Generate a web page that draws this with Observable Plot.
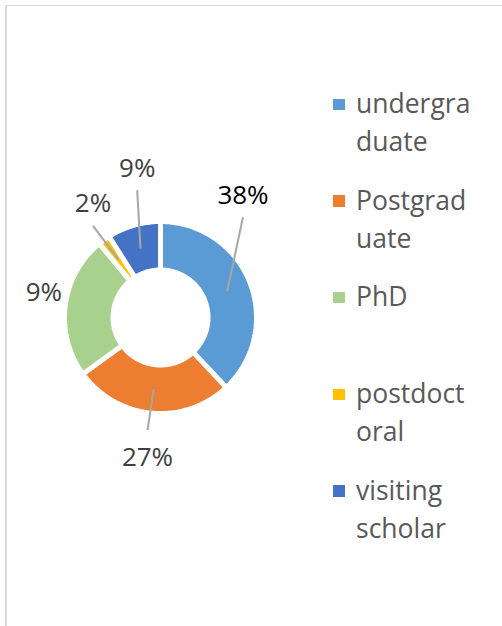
<!DOCTYPE html>
<html>
<head>
<meta charset="utf-8">
<script src="https://cdn.jsdelivr.net/npm/d3@7"></script>
<script src="https://cdn.jsdelivr.net/npm/@observablehq/plot@0.6"></script>
<style>
  html, body { margin: 0; padding: 0; background: #fff; }
  #chart { position: relative; width: 502px; height: 626px; overflow: hidden; font-family: "Open Sans", sans-serif; }
  #frame { position: absolute; left: 5px; top: 5px; right: -2px; bottom: -2px; border-top: 1px solid #d9d9d9; border-left: 2px solid #d9d9d9; }
  #plot { position: absolute; left: 0; top: 0; }
  .lg-item { position: absolute; left: 333px; }
  .lg-sw { position: absolute; left: 0; width: 11.5px; height: 11.5px; }
  .lg-tx { position: absolute; left: 23px; width: 122px; font-size: 26.5px; line-height: 38.4px; color: #595959; overflow-wrap: anywhere; word-break: normal; }
</style>
</head>
<body>
<div id="chart"><div id="frame"></div><div id="plot"></div><div id="legend"></div></div>
<script>
// ---- data ----
const categories = ["undergraduate", "Postgraduate", "PhD", "postdoctoral", "visiting scholar"];
const values = [38, 27, 24, 2, 9];
const labels = ["38%", "27%", "9%", "2%", "9%"];
const colors = ["#5B9BD5", "#ED7D31", "#A9D18E", "#FFC000", "#4472C4"];

// ---- layout (pixels, relative to the donut centre, y up) ----
const W = 502, H = 626, CX = 160, CY = 317;
const R_OUT = 93.5, R_IN = 50, GAP = 5;
const labelPos = [[82.5, 122.3], [-13, -139.7], [-116.7, 25.3], [-67.5, 113.6], [-23.3, 149.3]];

const pie = d3.pie().sort(null).value(d => d)(values);
const slicePts = [];
pie.forEach((p, i) => {
  const a0 = p.startAngle, a1 = p.endAngle;
  const n = Math.max(2, Math.ceil((a1 - a0) / (Math.PI / 180)));
  const ro = R_OUT + GAP / 2, ri = R_IN - GAP / 2;
  const ring = [];
  for (let k = 0; k <= n; k++) { const a = a0 + (a1 - a0) * k / n; ring.push([ro * Math.sin(a), ro * Math.cos(a)]); }
  for (let k = n; k >= 0; k--) { const a = a0 + (a1 - a0) * k / n; ring.push([ri * Math.sin(a), ri * Math.cos(a)]); }
  ring.push(ring[0]);
  ring.forEach(([x, y]) => slicePts.push({x, y, cat: categories[i]}));
});

const rMid = (R_OUT + R_IN) / 2;
const labelData = pie.map((p, i) => {
  const am = (p.startAngle + p.endAngle) / 2;
  const cx = rMid * Math.sin(am), cy = rMid * Math.cos(am);
  const [lx, ly] = labelPos[i];
  const dist = Math.hypot(lx - cx, ly - cy);
  const ey = ly > cy ? ly - 22 : ly + 27;
  return {i, label: labels[i], lx, ly, cx, cy, ex: lx, ey, leader: dist > 55};
});

const chart = Plot.plot({
  width: W, height: H,
  marginTop: 0, marginRight: 0, marginBottom: 0, marginLeft: 0,
  x: {domain: [-CX, W - CX], axis: null},
  y: {domain: [-(H - CY), CY], axis: null},
  color: {domain: categories, range: colors},
  style: {background: "transparent", overflow: "visible"},
  marks: [
    Plot.line(slicePts, {x: "x", y: "y", z: "cat", fill: "cat", stroke: "white", strokeWidth: GAP, curve: "linear", strokeLinejoin: "miter"}),
    Plot.link(labelData.filter(d => d.leader), {x1: "cx", y1: "cy", x2: "ex", y2: "ey", stroke: "#a6a6a6", strokeWidth: 2}),
    Plot.text(labelData.filter(d => d.i === 0), {x: "lx", y: "ly", text: "label", fill: "#000000", fontSize: 26, fontFamily: "Open Sans"}),
    Plot.text(labelData.filter(d => d.i !== 0), {x: "lx", y: "ly", text: "label", fill: "#404040", fontSize: 26, fontFamily: "Open Sans"})
  ]
});
document.getElementById("plot").appendChild(chart);

// ---- legend ----
const legend = document.getElementById("legend");
categories.forEach((c, i) => {
  const top = 84 + i * 96.67;
  const item = document.createElement("div");
  item.className = "lg-item";
  item.style.top = top + "px";
  const sw = document.createElement("div");
  sw.className = "lg-sw";
  sw.style.top = (20.3 - 5.75) + "px";
  sw.style.background = colors[i];
  const tx = document.createElement("div");
  tx.className = "lg-tx";
  tx.style.top = "0px";
  tx.textContent = c;
  item.appendChild(sw);
  item.appendChild(tx);
  legend.appendChild(item);
});
</script>
</body>
</html>
